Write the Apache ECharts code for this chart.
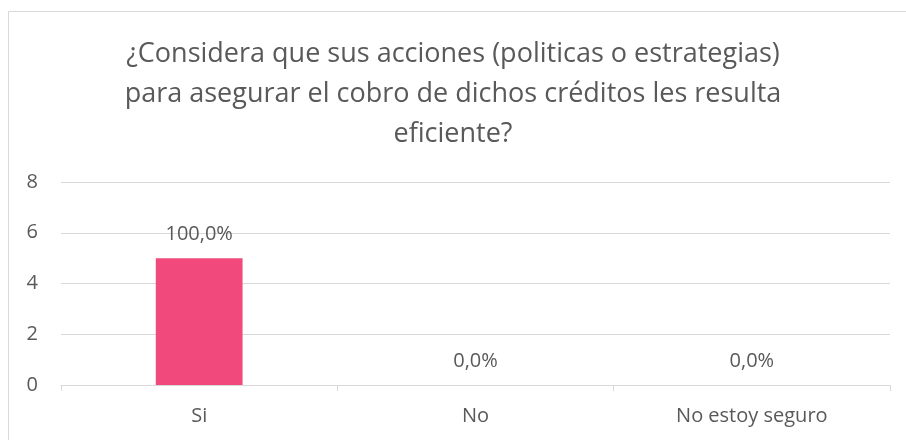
<!DOCTYPE html>
<html>
<head>
<meta charset="utf-8">
<script src="https://cdn.jsdelivr.net/npm/echarts@6/dist/echarts.min.js"></script>
<style>
  html, body { margin: 0; padding: 0; background: #fff; }
  #chart { width: 906px; height: 440px; }
</style>
</head>
<body>
<div id="chart"></div>
<script>
const categories = ['Si', 'No', 'No estoy seguro']
const values = [5, 0, 0]
const percentLabels = ['100,0%', '0,0%', '0,0%']
const yTicks = [0, 2, 4, 6, 8]

const textColor = '#595959'
const lineColor = '#d9d9d9'
const fontFamily = '"Open Sans", sans-serif'

const chart = echarts.init(document.getElementById('chart'))
chart.setOption({
  animation: false,
  textStyle: { fontFamily: fontFamily },
  title: {
    text: '¿Considera que sus acciones (politicas o estrategias)\npara asegurar el cobro de dichos créditos les resulta\neficiente?',
    left: 'center',
    top: 29,
    textStyle: {
      fontFamily: fontFamily,
      fontSize: 27,
      fontWeight: 'normal',
      color: textColor,
      lineHeight: 40,
      align: 'center'
    }
  },
  graphic: [
    {
      type: 'polyline',
      silent: true,
      shape: { points: [[8.5, 460], [8.5, 11.5], [920, 11.5]] },
      style: { stroke: lineColor, lineWidth: 1, fill: null }
    }
  ],
  grid: { left: 61, right: 16, top: 182, bottom: 55 },
  xAxis: {
    type: 'category',
    data: categories,
    axisLine: { lineStyle: { color: lineColor } },
    axisTick: { show: true, length: 6, lineStyle: { color: lineColor } },
    axisLabel: { color: textColor, fontSize: 20, margin: 21 }
  },
  yAxis: {
    type: 'value',
    min: yTicks[0],
    max: yTicks[yTicks.length - 1],
    interval: 2,
    axisLine: { show: false },
    axisTick: { show: false },
    axisLabel: { color: textColor, fontSize: 20, margin: 23 },
    splitLine: { lineStyle: { color: lineColor } }
  },
  series: [
    {
      type: 'bar',
      data: values,
      barWidth: '31.4%',
      itemStyle: { color: '#F2497D' },
      label: {
        show: true,
        position: 'top',
        distance: 14,
        color: textColor,
        fontSize: 20,
        formatter: function(p) {
          return percentLabels[p.dataIndex]
        }
      }
    }
  ]
})
</script>
</body>
</html>
